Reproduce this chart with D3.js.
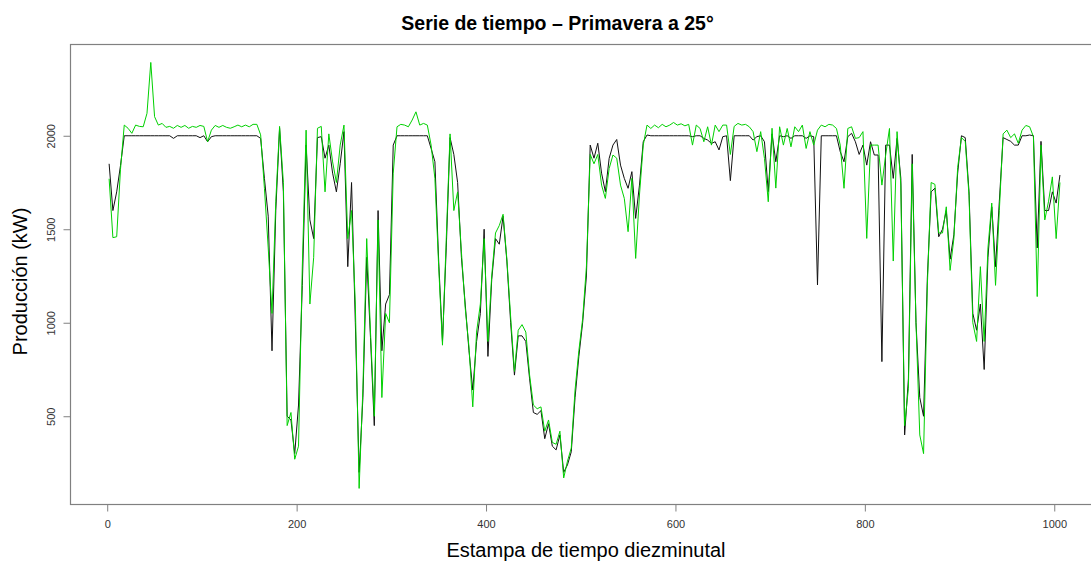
<!DOCTYPE html>
<html>
<head>
<meta charset="utf-8">
<script src="https://cdn.jsdelivr.net/npm/d3@7"></script>
<style>
  body { margin: 0; background: #fff; }
  svg { display: block; font-family: "Liberation Sans", Arial, Helvetica, sans-serif; }
</style>
</head>
<body>
<svg id="chart" width="1091" height="563"></svg>
<script>
// Ten-minute time stamps: the series is stored every 4th stamp, starting at stamp 2.
const firstStamp = 2;
const stampStep = 4;

// Measured production (kW)
const real = [
  1850,1600,1700,1840,2000,2000,2000,2000,2000,2000,
  2000,2000,2000,2000,2000,2000,2000,1986,2000,2000,
  2000,2000,2000,2000,1990,2000,1968,1995,2000,2000,
  2000,2000,2000,2000,2000,2000,2000,2000,2000,2000,
  1986,1772,1570,850,1600,2040,1700,500,480,300,
  560,1200,1950,1550,1450,1990,1995,1880,1950,1800,
  1700,1850,2022,1300,1750,1000,200,600,1350,920,
  450,1600,850,1100,1150,1950,2000,2000,2000,2000,
  2000,2000,2000,2000,2000,1932,1861,1330,900,1400,
  1990,1900,1750,1350,1100,850,640,900,1050,1500,
  820,1230,1450,1420,1570,1330,1000,720,930,930,
  900,700,520,510,530,380,460,340,320,400,
  200,240,310,600,820,1000,1250,1950,1880,1960,
  1800,1701,1879,1950,1980,1843,1772,1719,1808,1558,
  1736,1968,2004,2000,2000,2000,2000,2000,2000,2000,
  2000,2000,2000,2000,1995,2000,2000,1986,1977,1959,
  1968,1924,1995,2000,1760,2000,2000,2000,2000,2000,
  1977,1995,2000,1968,1701,2010,1861,2000,1995,2000,
  1986,2000,2000,2000,1986,2000,1995,1202,2000,2000,
  2000,2000,2000,1915,1861,1995,2013,1968,1900,1950,
  1843,1968,1897,1897,792,1950,1950,1772,1986,1772,
  400,700,1900,1000,600,500,1240,1700,1720,1460,
  1500,1600,1340,1470,1800,2000,1990,1700,1050,960,
  1100,750,1350,1620,1300,1650,1990,1980,1970,1950,
  1950,2000,2000,2004,2000,1400,1970,1600,1600,1700,
  1640,1790
];

// Predicted production (kW)
const pred = [
  1770,1455,1460,1820,2057,2040,2013,2057,2050,2048,
  2120,2392,2102,2057,2066,2045,2050,2040,2055,2045,
  2055,2040,2050,2045,2055,2050,1968,2030,2055,2045,
  2055,2045,2040,2048,2057,2048,2057,2048,2061,2061,
  2005,1719,1400,1050,1650,2050,1750,450,520,270,
  340,1300,2030,1100,1350,2040,2050,1700,2010,1860,
  1750,1950,2057,1450,1600,1100,114,650,1450,950,
  500,1550,600,1050,1000,1800,2048,2061,2057,2048,
  2084,2128,2057,2066,2057,1950,1772,1300,880,1450,
  2010,1600,1700,1380,1080,870,550,950,1100,1450,
  900,1250,1480,1520,1580,1340,1030,740,960,990,
  950,720,560,540,550,420,480,360,350,420,
  170,260,330,640,850,1020,1300,1900,1850,1900,
  1736,1665,1825,1897,1880,1736,1665,1487,1772,1344,
  1683,1950,2057,2039,2057,2043,2061,2048,2057,2071,
  2057,2064,2053,2061,1950,2057,2039,1968,2048,1950,
  2057,2022,2057,2057,1900,2050,2066,2057,2061,2048,
  2022,1915,2022,1879,1647,2040,1720,2048,1950,2039,
  1941,2048,2022,2057,1932,2022,1950,2030,2057,2048,
  2061,2057,2039,1950,1719,2039,2048,1986,1990,2022,
  1451,1950,1950,1950,1736,1897,2039,1330,2022,1736,
  450,650,1850,1000,400,300,1200,1750,1740,1480,
  1480,1620,1280,1450,1830,1990,1970,1680,1000,900,
  1300,900,1400,1640,1200,1600,2010,2030,1990,2010,
  1960,2030,2055,2048,1995,1140,1950,1550,1650,1780,
  1450,1750
];

const xTicks = [0, 200, 400, 600, 800, 1000];
const yTicks = [500, 1000, 1500, 2000];

const chartTitle = "Serie de tiempo – Primavera a 25°";
const xTitle = "Estampa de tiempo diezminutal";
const yTitle = "Producción (kW)";

const svg = d3.select("#chart");
const box = { left: 70, right: 1100, top: 44.5, bottom: 504.5 };

const x = d3.scaleLinear().domain([-39.3, 1048.3]).range([box.left, box.right]);
const y = d3.scaleLinear().domain([28, 2488]).range([box.bottom, box.top]);

svg.append("clipPath").attr("id", "plot-clip")
  .append("rect")
  .attr("x", box.left).attr("y", box.top)
  .attr("width", box.right - box.left).attr("height", box.bottom - box.top);

const stamp = i => firstStamp + i * stampStep;
const line = d3.line()
  .x((d, i) => x(stamp(i)))
  .y(d => y(d));

const plot = svg.append("g").attr("clip-path", "url(#plot-clip)");

plot.append("path")
  .datum(real)
  .attr("fill", "none")
  .attr("stroke", "#111")
  .attr("stroke-width", 1)
  .attr("d", line);

plot.append("path")
  .datum(pred)
  .attr("fill", "none")
  .attr("stroke", "#00d000")
  .attr("stroke-width", 1)
  .attr("d", line);

// Frame around the plotting region
svg.append("rect")
  .attr("x", box.left + 0.5).attr("y", box.top)
  .attr("width", box.right - box.left).attr("height", box.bottom - box.top)
  .attr("fill", "none").attr("stroke", "#808080").attr("stroke-width", 1.2);

// X axis
const xAxis = svg.append("g")
  .attr("transform", `translate(0,${box.bottom})`)
  .call(d3.axisBottom(x).tickValues(xTicks).tickSize(7).tickSizeOuter(0).tickFormat(d3.format("d")));
xAxis.select(".domain").remove();
xAxis.selectAll(".tick line").attr("stroke", "#808080");
xAxis.selectAll(".tick text")
  .attr("y", 23.5).attr("dy", null)
  .attr("fill", "#333")
  .style("font-size", "11px")
  .style("font-family", "'Liberation Sans', Arial, sans-serif");

// Y axis
const yAxis = svg.append("g")
  .attr("transform", `translate(${box.left + 0.5},0)`)
  .call(d3.axisLeft(y).tickValues(yTicks).tickSize(7).tickSizeOuter(0).tickFormat(d3.format("d")));
yAxis.select(".domain").remove();
yAxis.selectAll(".tick line").attr("stroke", "#808080");
yAxis.selectAll(".tick text")
  .attr("x", null).attr("dy", null)
  .attr("text-anchor", "middle")
  .attr("transform", "translate(-15.5,0) rotate(-90)")
  .attr("fill", "#333")
  .style("font-size", "11px")
  .style("font-family", "'Liberation Sans', Arial, sans-serif");

// Titles
svg.append("text")
  .attr("x", 557.5).attr("y", 30)
  .attr("text-anchor", "middle")
  .style("font-size", "19.5px").style("font-weight", "bold")
  .attr("fill", "#000")
  .text(chartTitle);

svg.append("text")
  .attr("x", 586).attr("y", 557)
  .attr("text-anchor", "middle")
  .style("font-size", "20px")
  .attr("fill", "#000")
  .text(xTitle);

svg.append("text")
  .attr("transform", "translate(27,281.5) rotate(-90)")
  .attr("text-anchor", "middle")
  .style("font-size", "20px")
  .attr("fill", "#000")
  .text(yTitle);
</script>
</body>
</html>
